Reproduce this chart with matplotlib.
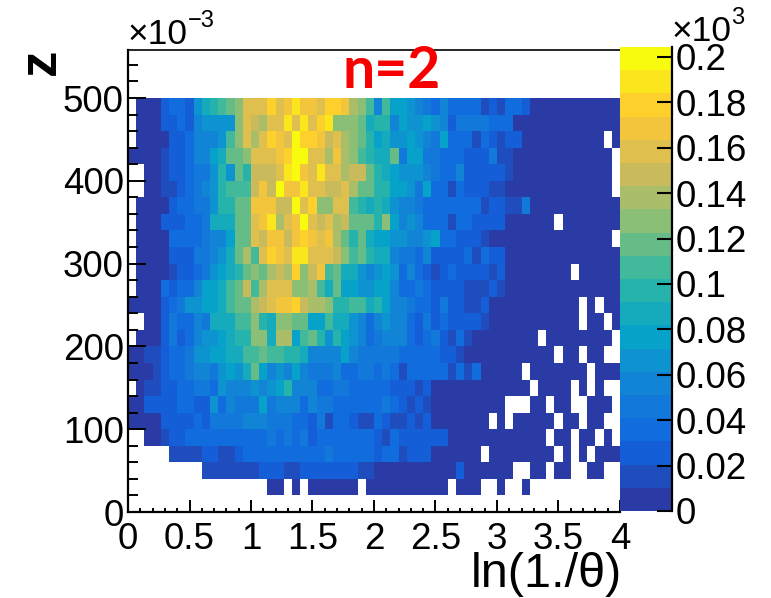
import matplotlib
matplotlib.use('Agg')
import matplotlib.pyplot as plt
import numpy as np
from matplotlib.colors import LinearSegmentedColormap, BoundaryNorm

plt.rcParams['font.family'] = ['Liberation Sans', 'DejaVu Sans']

# colour level of each bin, top row (z 480-500) first, -1 = empty bin
levels = [
    [-1,0,0,0,2,3,3,2,6,8,9,10,11,12,15,15,15,17,15,16,18,16,16,15,17,17,16,13,12,10,5,10,7,7,6,5,4,3,5,3,3,3,3,1,2,1,3,3,2],
    [-1,0,0,0,2,2,3,2,5,6,6,6,6,12,15,14,13,15,15,18,15,18,15,17,18,12,12,12,11,8,9,9,5,7,6,6,7,6,5,2,4,4,4,4,3,3,3],
    [-1,0,0,0,0,2,2,3,5,5,5,6,10,12,15,13,15,17,16,15,19,17,17,16,14,15,13,12,11,9,7,8,6,6,7,6,5,4,7,3,3,3,1,3,2,1,2,2],
    [0,0,0,0,1,2,2,3,5,5,7,8,11,11,12,15,15,15,16,17,19,19,15,15,13,16,13,12,10,9,8,8,11,4,7,7,4,4,3,3,3,2,2,2,4,1,1],
    [-1,-1,0,0,1,2,2,3,4,4,6,9,6,11,9,14,14,14,15,18,19,16,15,18,15,15,13,14,14,11,9,8,7,6,6,6,5,4,3,3,5,2,2,2,2,2,1],
    [-1,-1,0,0,1,1,2,3,4,5,6,9,10,10,10,14,16,14,19,16,16,18,15,15,14,14,15,13,11,11,9,9,7,7,6,4,7,3,3,1,3,2,2,2,1,1],
    [-1,0,0,0,0,2,3,3,4,4,6,9,9,11,11,16,16,16,14,14,19,15,17,12,12,15,15,10,9,8,9,8,6,5,5,4,3,3,3,3,3,3,3,1,2,2,1,1,4],
    [-1,0,0,0,2,2,2,3,3,4,8,8,8,11,11,15,16,18,13,15,16,19,15,14,15,13,14,11,11,11,9,12,7,5,6,5,3,3,3,1,3,3,2,2,2,2],
    [-1,0,0,0,0,3,3,3,3,4,5,5,7,11,11,15,14,16,16,14,16,17,16,15,16,13,11,9,11,8,7,7,6,6,5,5,6,7,3,3,2,2,2,1],
    [-1,0,0,0,0,2,2,2,4,4,5,6,8,11,13,10,15,17,16,15,18,18,15,15,15,14,12,10,11,9,8,8,5,4,4,3,5,2,2,2,2,3,1,3,2,2],
    [-1,0,0,0,0,1,2,2,3,4,6,7,8,9,11,12,11,13,14,13,17,12,14,16,10,11,8,8,6,5,6,7,6,3,5,3,2,1,2,3,2,2,2,2,1,2],
    [-1,0,0,0,3,2,3,3,5,7,7,8,10,11,14,10,13,15,15,15,12,12,13,10,8,11,7,7,6,6,7,7,5,3,3,4,3,2,2,2,2,1,1,1,2,1],
    [0,0,0,0,2,3,4,6,6,7,7,8,10,11,11,13,14,15,16,16,17,14,13,13,12,9,9,10,10,8,9,7,5,5,4,3,3,2,4,2,2,1,1,2],
    [-1,-1,0,0,2,4,3,3,5,4,8,8,8,10,10,12,9,8,12,12,11,11,7,7,10,8,8,6,5,3,5,6,5,5,3,2,4,2,3,2,2,2,2,1],
    [-1,0,0,0,2,4,2,3,5,6,6,7,8,9,9,12,12,8,13,13,7,10,11,9,6,9,7,6,5,3,4,5,5,5,3,2,3,4,2,1,3,1],
    [0,0,1,1,2,3,3,4,6,6,7,7,8,8,10,10,11,10,10,9,9,8,5,5,5,5,7,5,4,4,4,4,4,3,3,3,3,3,2,2,1],
    [0,0,0,1,2,3,3,4,5,5,4,6,7,6,8,11,7,5,6,5,7,5,4,4,4,5,3,3,4,4,3,4,3,1,3,3,3,3,3,1,3,1,3],
    [-1,0,1,1,2,2,3,3,4,4,3,6,5,5,5,6,5,6,7,9,5,5,5,3,3,4,4,3,3,3,3,3,2,2,2,1,2],
    [0,0,2,2,2,2,3,3,2,2,6,3,5,4,4,4,7,4,5,5,5,3,5,4,4,3,3,3,3,3,3,4,3,2,1,2,1],
    [0,0,0,0,2,2,2,2,3,2,4,4,4,4,5,5,5,4,4,4,3,3,2,4,1,3,3,2,1,1,3,2,1,1,2,1,2],
    [-1,-1,0,0,1,2,2,3,3,3,3,3,3,3,3,3,3,4,3,4,3,4,2,3,3,3,3,3,3,3,2,1,3,2,2,2,2,2,2],
    [-1,-1,-1,-1,-1,1,1,1,1,2,2,1,1,2,3,3,3,3,3,3,3,3,3,3,4,3,3,3,3,3,2,3,3,1,2,2,2],
    [-1,-1,-1,-1,-1,-1,-1,-1,-1,1,1,1,1,1,1,1,2,2,2,1,1,2,2,2,2,2,2,2,1,1,0,0,0,0,0,0,0,0,0,0,2],
    [-1,-1,-1,-1,-1,-1,-1,-1,-1,-1,-1,-1,-1,-1,-1,-1,-1,0,0,-1,0,-1,0,0,0,0,0,0,-1],
]

# empty bins on the right side: row -> columns
empty_bins = {
    2: [58], 3: [59], 4: [59], 5: [59], 7: [52], 8: [59], 10: [54],
    12: [55, 57], 13: [55, 58], 14: [50, 59], 15: [52, 55, 58, 59],
    16: [48, 56], 17: [49, 54, 56, 58, 59],
    18: [46, 47, 48, 51, 54, 55, 59], 19: [44, 46, 52, 55, 58, 59],
    20: [51, 54, 57, 59], 21: [43, 52, 54, 56],
    22: [47, 48, 51, 54, 55, 58, 59],
    23: [39, 43, 44, 46, 47, 49, 50, 51, 52, 53, 54, 55, 56, 57, 58, 59],
}

bird_colors = [
    (0.165, 0.23, 0.65), (0.06, 0.40, 0.88), (0.0780, 0.5041, 0.8385),
    (0.0232, 0.6419, 0.7914), (0.1802, 0.7178, 0.6425), (0.5301, 0.7492, 0.4662),
    (0.8186, 0.7328, 0.3499), (0.9956, 0.7862, 0.1968), (0.9764, 0.9832, 0.0539),
]

colz_ticks = [0, 0.02, 0.04, 0.06, 0.08, 0.1, 0.12, 0.14, 0.16, 0.18, 0.2]
colz_labels = ['0', '0.02', '0.04', '0.06', '0.08', '0.1', '0.12', '0.14', '0.16', '0.18', '0.2']
colz_max = 0.2044

data = np.zeros((24, 60))
for i, row in enumerate(levels):
    data[i] = row + [0] * (60 - len(row))
for i, cols in empty_bins.items():
    data[i, cols] = -1
step = colz_max / 20
values = np.ma.masked_less(data, 0)
values = (values + 0.5) * step

x_edges = np.linspace(0, 4, 61)
z_edges = np.linspace(500, 20, 25)

W, H = 771, 598
fig = plt.figure(figsize=(W / 100, H / 100), dpi=100)
ax = fig.add_axes([128 / W, (H - 512) / H, 492 / W, 462 / H])

cmap = LinearSegmentedColormap.from_list('bird', bird_colors, N=20)
norm = BoundaryNorm(np.linspace(0, colz_max, 21), 20)
mesh = ax.pcolormesh(x_edges, z_edges, values, cmap=cmap, norm=norm)

ax.set_xlim(0, 4)
ax.set_ylim(0, 558)
ax.set_xticks(np.arange(0, 4.01, 0.5))
ax.set_xticklabels(['0', '0.5', '1', '1.5', '2', '2.5', '3', '3.5', '4'])
ax.set_xticks(np.arange(0, 4.01, 0.1), minor=True)
ax.set_yticks(np.arange(0, 501, 100))
ax.set_yticks(np.arange(0, 551, 20), minor=True)
ax.tick_params(axis='x', which='major', direction='in', length=9, width=1.4, labelsize=26.5, pad=7)
ax.tick_params(axis='x', which='minor', direction='in', length=3, width=1.4)
ax.tick_params(axis='y', which='major', direction='in', length=13, width=1.4, labelsize=26.5, pad=3)
ax.tick_params(axis='y', which='minor', direction='in', length=7, width=1.4)
ax.spines['right'].set_visible(False)
ax.spines['left'].set_linewidth(1.6)
ax.spines['bottom'].set_linewidth(1.6)
ax.spines['top'].set_linewidth(1.2)

cax = fig.add_axes([620 / W, (H - 511) / H, 52 / W, 464 / H])
cb = fig.colorbar(mesh, cax=cax, ticks=colz_ticks, spacing='proportional')
cb.outline.set_visible(False)
cb.minorticks_off()
cax.set_yticklabels(colz_labels)
cax.tick_params(axis='y', which='major', direction='in', right=True, left=False,
                length=11, width=1.5, labelsize=26.5, pad=2.5)
cax.spines['right'].set_visible(True)
cax.spines['right'].set_linewidth(1.6)

fig.text(128 / W, 1 - 44 / H, '×10', fontsize=25.5, ha='left', va='baseline')
fig.text(188 / W, 1 - 27 / H, '−3', fontsize=17, ha='left', va='baseline')
fig.text(672 / W, 1 - 41 / H, '×10', fontsize=25.5, ha='left', va='baseline')
fig.text(731 / W, 1 - 24 / H, '3', fontsize=17, ha='left', va='baseline')
fig.text(41 / W, 1 - 62 / H, 'z', fontsize=38, fontweight='bold', rotation=90, ha='center', va='center')
fig.text(622 / W, 1 - 587 / H, 'ln(1./θ)', fontsize=35, ha='right', va='baseline')
fig.text(392 / W, 1 - 72 / H, 'n=2', fontsize=41, fontweight='bold', color='#f60000',
         family='Lato', ha='center', va='center')

plt.savefig('out.png', dpi=100)
